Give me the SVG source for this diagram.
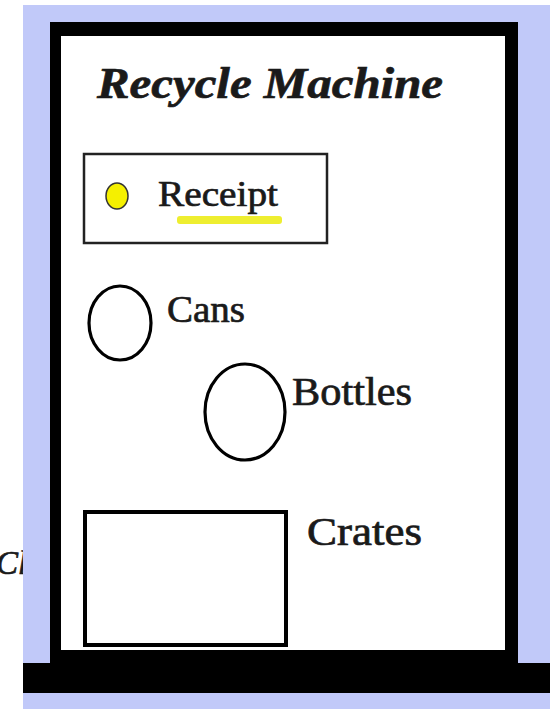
<svg xmlns="http://www.w3.org/2000/svg" width="550" height="709" viewBox="0 0 550 709">
<style>
.lbl{font-family:"Liberation Serif","DejaVu Serif",serif;fill:#1a1a1a;stroke:#1a1a1a;stroke-width:0.7;}
.ring{fill:none;stroke:#000;stroke-width:3.2;}
</style>
<rect x="0" y="0" width="550" height="709" fill="#fff"/>
<text class="lbl" x="-4" y="574" font-size="33" font-style="italic">Cl</text>
<g id="frame">
<rect x="23" y="5" width="527" height="704" fill="#c1c9f9"/>
<rect x="50" y="22" width="468" height="641" fill="#000"/>
<rect x="61" y="36" width="444" height="614" fill="#fff"/>
<rect x="23" y="663" width="527" height="30" fill="#000"/>
</g>
<g id="title">
<text class="lbl" x="97" y="98" font-size="44" font-style="italic" font-weight="bold" textLength="346" lengthAdjust="spacingAndGlyphs" stroke-width="0.3">Recycle Machine</text>
</g>
<g id="receipt">
<rect x="84" y="154" width="243" height="89" fill="#fff" stroke="#222" stroke-width="2.5"/>
<ellipse cx="117" cy="196" rx="11" ry="13" fill="#f5f000" stroke="#333" stroke-width="1.5"/>
<rect x="177" y="216" width="105" height="8" rx="3" fill="#eeee30"/>
<text class="lbl" x="158" y="206" font-size="36" textLength="120" lengthAdjust="spacingAndGlyphs">Receipt</text>
</g>
<g id="cans">
<ellipse class="ring" cx="120" cy="323" rx="31" ry="37"/>
<text class="lbl" x="167" y="322" font-size="38" textLength="78" lengthAdjust="spacingAndGlyphs">Cans</text>
</g>
<g id="bottles">
<ellipse class="ring" cx="245" cy="412" rx="40" ry="48"/>
<text class="lbl" x="292" y="405" font-size="39" textLength="120" lengthAdjust="spacingAndGlyphs">Bottles</text>
</g>
<g id="crates">
<rect x="85" y="512" width="201" height="133" fill="#fff" stroke="#000" stroke-width="4"/>
<text class="lbl" x="307" y="545" font-size="39" textLength="115" lengthAdjust="spacingAndGlyphs">Crates</text>
</g>
</svg>
